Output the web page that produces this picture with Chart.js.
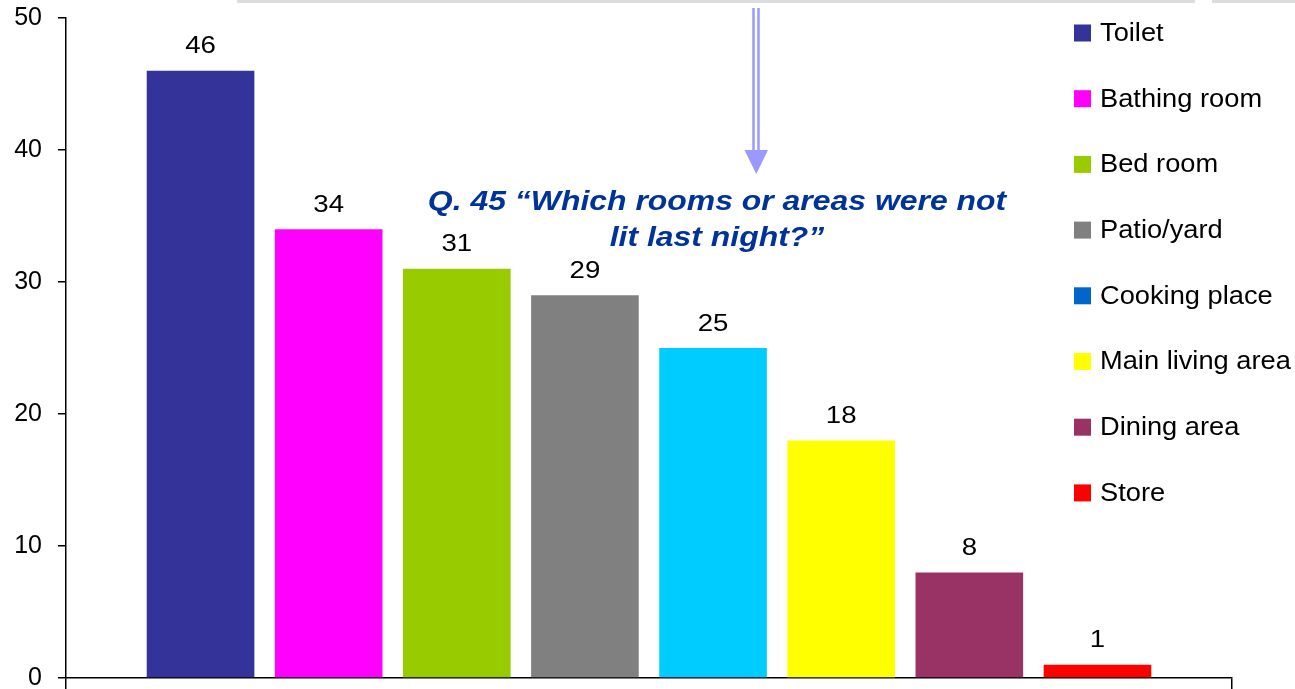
<!DOCTYPE html>
<html>
<head>
<meta charset="utf-8">
<script src="https://cdn.jsdelivr.net/npm/chart.js@4"></script>
<style>
    body { margin: 0; background: #ffffff; }
    #wrap { width: 1295px; height: 689px; position: relative; }
</style>
</head>
<body>
<div id="wrap"><canvas id="barChart"></canvas></div>
<script>
const categories = [
    'Toilet',
    'Bathing room',
    'Bed room',
    'Patio/yard',
    'Cooking place',
    'Main living area',
    'Dining area',
    'Store'
];
const values = [46, 34, 31, 29, 25, 18, 8, 1];
const barColors = [
    '#333399',
    '#ff00ff',
    '#99cc00',
    '#808080',
    '#00ccff',
    '#ffff00',
    '#993366',
    '#ff0000'
];
// the legend swatch for cooking place is a darker blue than its bar
const legendColors = [
    '#333399',
    '#ff00ff',
    '#99cc00',
    '#808080',
    '#0066cc',
    '#ffff00',
    '#993366',
    '#ff0000'
];
const yTicks = [0, 10, 20, 30, 40, 50];
const titleLines = ['Q. 45 \u201cWhich rooms or areas were not', 'lit last night?\u201d'];

const FONT = '"Liberation Sans", Arial, sans-serif';

// text in the original is a little stretched sideways
function wideText(c, text, x, y, sx) {
    c.save();
    c.translate(x, y);
    c.scale(sx, 1);
    c.fillText(text, 0, 0);
    c.restore();
}

window.onload = function () {
    const ctx = document.getElementById('barChart');

    // labels, title, arrow and legend drawn over the chart
    const decor = {
        id: 'decor',
        afterDatasetsDraw(chart) {
            const c = chart.ctx;
            const meta = chart.getDatasetMeta(0);
            c.save();

            // value labels
            c.fillStyle = '#000';
            c.font = '24px ' + FONT;
            c.textAlign = 'center';
            c.textBaseline = 'middle';
            meta.data.forEach(function (bar, i) {
                wideText(c, String(values[i]), bar.x, bar.y - 24, 1.15);
            });

            // slide remnants at the top
            c.fillStyle = '#dddddd';
            c.fillRect(237, 0, 958, 3);
            c.fillRect(1212, 0, 83, 3);

            // arrow
            c.strokeStyle = '#9999ff';
            c.lineWidth = 2.5;
            c.beginPath();
            c.moveTo(753.5, 8);
            c.lineTo(753.5, 152);
            c.moveTo(758.5, 8);
            c.lineTo(758.5, 152);
            c.stroke();
            c.fillStyle = '#9999ff';
            c.beginPath();
            c.moveTo(744.5, 150);
            c.lineTo(768, 150);
            c.lineTo(756.3, 174);
            c.closePath();
            c.fill();

            // question text
            c.fillStyle = '#003399';
            c.font = 'italic bold 28px ' + FONT;
            wideText(c, titleLines[0], 717, 202, 1.14);
            wideText(c, titleLines[1], 717, 238, 1.14);

            // legend
            c.font = '25px ' + FONT;
            c.textAlign = 'left';
            categories.forEach(function (name, i) {
                const y = 33 + i * 65.7;
                c.fillStyle = legendColors[i];
                c.fillRect(1074, y - 8.5, 17, 17);
                c.fillStyle = '#000';
                wideText(c, name, 1100, y + 1, 1.09);
            });

            c.restore();
        }
    };

    new Chart(ctx, {
        type: 'bar',
        data: {
            datasets: [{
                data: values.map(function (v, i) {
                    return { x: i, y: v };
                }),
                backgroundColor: barColors,
                categoryPercentage: 1,
                barPercentage: 0.84
            }]
        },
        options: {
            responsive: true,
            maintainAspectRatio: false,
            animation: false,
            layout: {
                padding: { top: 18, right: 63, left: 0, bottom: 0 }
            },
            plugins: {
                legend: { display: false },
                tooltip: { enabled: false }
            },
            scales: {
                x: {
                    type: 'linear',
                    min: -1.05,
                    max: 8.05,
                    offset: false,
                    afterBuildTicks: function (scale) {
                        scale.ticks = [{ value: scale.min }, { value: scale.max }];
                    },
                    afterFit: function (scale) {
                        scale.height = 11;
                        scale.paddingLeft = 0;
                        scale.paddingRight = 0;
                    },
                    ticks: { display: false },
                    grid: {
                        offset: false,
                        drawOnChartArea: false,
                        tickLength: 11,
                        color: '#000',
                        lineWidth: 1.5
                    },
                    border: { color: '#000', width: 1.5 }
                },
                y: {
                    min: 0,
                    max: 50,
                    afterBuildTicks: function (scale) {
                        scale.ticks = yTicks.map(function (v) {
                            return { value: v };
                        });
                    },
                    afterFit: function (scale) {
                        scale.width = 66;
                        scale.paddingTop = 0;
                        scale.paddingBottom = 0;
                    },
                    ticks: {
                        color: '#000',
                        padding: 16,
                        font: { family: FONT, size: 25 }
                    },
                    grid: {
                        drawOnChartArea: false,
                        tickLength: 8,
                        color: '#000',
                        lineWidth: 1.5
                    },
                    border: { color: '#000', width: 1.5 }
                }
            }
        },
        plugins: [decor]
    });
};
</script>
</body>
</html>
